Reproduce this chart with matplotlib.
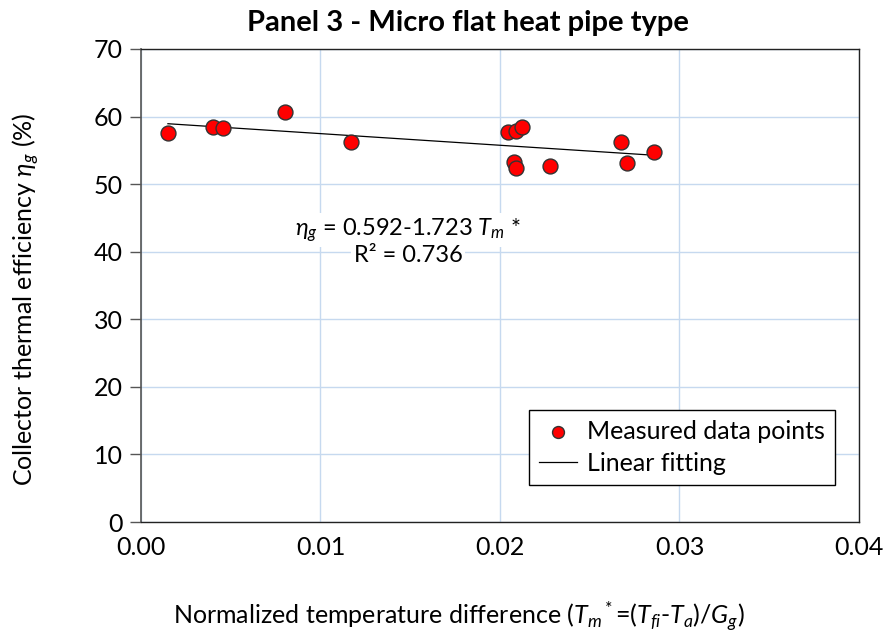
import matplotlib
matplotlib.use("Agg")
import matplotlib.pyplot as plt
import numpy as np

plt.rcParams['font.family'] = ['Lato', 'DejaVu Sans']
plt.rcParams['mathtext.fontset'] = 'custom'
plt.rcParams['mathtext.rm'] = 'Lato'
plt.rcParams['mathtext.it'] = 'Lato:italic'

# Measured data points
tm_star = [0.0015, 0.0040, 0.00457, 0.0080, 0.0117, 0.02045, 0.0209, 0.0212,
           0.0208, 0.0209, 0.0228, 0.02674, 0.0271, 0.02858]
efficiency = [57.6, 58.5, 58.3, 60.7, 56.2, 57.7, 57.9, 58.4,
              53.3, 52.4, 52.7, 56.2, 53.2, 54.8]

# Linear fit coefficients (in %)
fit_intercept = 59.2
fit_slope = -172.3

x_ticks = [0.00, 0.01, 0.02, 0.03, 0.04]
x_tick_labels = ["0.00", "0.01", "0.02", "0.03", "0.04"]
y_ticks = [0, 10, 20, 30, 40, 50, 60, 70]

fig = plt.figure(figsize=(8.87, 6.37), dpi=100)
ax = fig.add_axes([141/887, 1 - 522/637, 718/887, 473/637])

ax.set_xlim(0, 0.04)
ax.set_ylim(0, 70)
ax.set_xticks(x_ticks)
ax.set_xticklabels(x_tick_labels)
ax.set_yticks(y_ticks)
ax.grid(True, color='#c6d9ef', linewidth=1.0)
ax.set_axisbelow(True)

xfit = np.array([min(tm_star), max(tm_star)])
yfit = fit_intercept + fit_slope * xfit
ax.plot(xfit, yfit, color='black', linewidth=0.9, label='Linear fitting', zorder=2)
ax.scatter(tm_star, efficiency, s=115, color='#ff0000', edgecolors='#333333',
           linewidths=1.0, zorder=3, label='Measured data points')

for side in ['top', 'right', 'bottom']:
    ax.spines[side].set_color('#222222')
    ax.spines[side].set_linewidth(1.0)
ax.spines['left'].set_color('#555555')
ax.spines['left'].set_linewidth(1.2)

ax.tick_params(axis='x', length=0, pad=10, labelsize=18)
ax.tick_params(axis='y', length=8, width=1.0, color='#555555', pad=5, labelsize=18,
               direction='out')

ax.text(0.01488, 43.2, r"$\mathit{\eta_g}$ = 0.592-1.723 $\mathit{T_m}$ *",
        ha='center', va='center', fontsize=17,
        bbox=dict(facecolor='white', edgecolor='none', pad=2))
ax.text(0.01488, 39.4, "R² = 0.736", ha='center', va='center', fontsize=17,
        bbox=dict(facecolor='white', edgecolor='none', pad=2))

ax.set_title("Panel 3 - Micro flat heat pipe type", fontsize=21, fontweight='bold',
             pad=13, x=0.455)
ax.set_xlabel(r"Normalized temperature difference ($\mathit{T_m}$$^*$=($\mathit{T_{fi}}$-$\mathit{T_a}$)/$\mathit{G_g}$)",
              fontsize=18)
ax.xaxis.set_label_coords(0.443, -0.163)
ax.set_ylabel(r"Collector thermal efficiency $\mathit{\eta_g}$ (%)", fontsize=18)
ax.yaxis.set_label_coords(-0.138, 0.471)

handles, labels = ax.get_legend_handles_labels()
leg = ax.legend(handles[::-1], labels[::-1], loc='lower right',
                bbox_to_anchor=(0.9833, 0.0526), fontsize=18, frameon=True,
                fancybox=False, edgecolor='black', framealpha=1,
                handlelength=1.5, handletextpad=0.4, borderpad=0.4,
                labelspacing=0.35, markerscale=0.8)
leg.get_frame().set_linewidth(1.0)

fig.savefig("out.png", dpi=100)
